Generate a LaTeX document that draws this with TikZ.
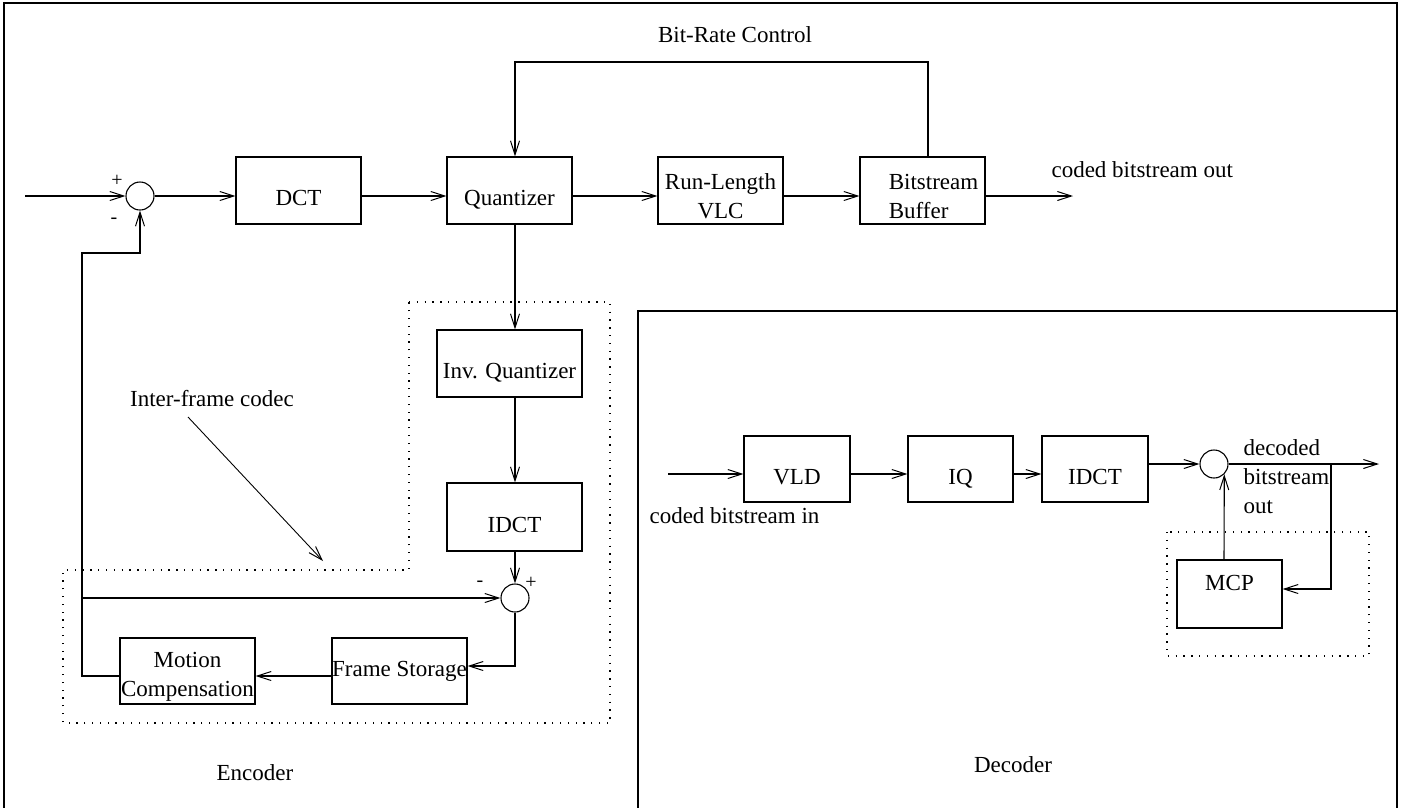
\documentclass[tikz,border=0pt]{standalone}
\usepackage{fontspec}
\setmainfont{Liberation Serif}
\usetikzlibrary{arrows.meta}
\begin{document}
\begin{tikzpicture}[x=1pt,y=-1pt,
  every node/.style={font=\fontsize{23}{29}\selectfont},
  line width=1.1pt,
  arr/.style={-{Straight Barb[length=14pt,width=9pt,line width=1pt]}},
  box/.style={draw,rectangle,inner sep=0pt,align=center},
  low/.style={text height=30pt,text depth=0pt},
  high/.style={text height=16pt,text depth=23pt},
  sum/.style={draw,circle,minimum size=28pt,inner sep=0pt},
  dotline/.style={line width=1.3pt,dash pattern=on 1.3pt off 6.5pt},
  lbl/.style={inner sep=0pt},
  sgn/.style={inner sep=0pt,font=\fontsize{20}{24}\selectfont}]
\useasboundingbox (0,0) rectangle (1404,807);
% frames
\draw (4,812) -- (4,3) -- (1397,3) -- (1397,812);
\draw (638,812) -- (638,311) -- (1397,311);
% dotted regions
\draw[dotline] (409,302) -- (610,302) -- (610,723) -- (63,723) -- (63,570) -- (409,570) -- cycle;
\draw[dotline] (1167,532) rectangle (1369,656);
% encoder nodes
\node[sum] (c1) at (140,196) {};
\node[box,low,minimum width=125pt,minimum height=67pt] (dct) at (298.5,190.5) {DCT};
\node[box,low,minimum width=125pt,minimum height=67pt] (qz) at (509.5,190.5) {Quantizer};
\node[box,minimum width=125pt,minimum height=67pt] (rl) at (720.5,190.5) {\rule{0pt}{27pt}Run-Length\\VLC};
\node[box,minimum width=125pt,minimum height=67pt,align=left] (bb) at (922.5,190.5) {\rule{0pt}{27pt}\hspace*{22pt}Bitstream\\\hspace*{22pt}Buffer};
\node[box,low,minimum width=145pt,minimum height=67pt] (iq) at (509.5,363.5) {Inv. Quantizer};
\node[box,low,minimum width=135pt,minimum height=68pt] (idct) at (514.5,517) {IDCT};
\node[sum] (c2) at (515,598) {};
\node[box,minimum width=135pt,minimum height=66pt] (mc) at (187.5,671) {\rule{0pt}{27pt}Motion\\Compensation};
\node[box,minimum width=135pt,minimum height=66pt] (fs) at (399.5,671) {Frame Storage};
% encoder coordinates
\coordinate (in) at (25,196);
\coordinate (out) at (1073,196);
\coordinate (br1) at (928,62);
\coordinate (br2) at (515,62);
\coordinate (fb) at (82,253);
\coordinate (ar1) at (188,417);
\coordinate (ar2) at (323,561);
% encoder connectors
\draw[arr] (in) -- (c1.west);
\draw[arr] (c1.east) -- (c1 -| dct.west);
\draw[arr] (c1 -| dct.east) -- (c1 -| qz.west);
\draw[arr] (c1 -| qz.east) -- (c1 -| rl.west);
\draw[arr] (c1 -| rl.east) -- (c1 -| bb.west);
\draw[arr] (c1 -| bb.east) -- (out);
\draw[arr] (br1 |- bb.north) -- (br1) -- (br2) -- (br2 |- qz.north);
\draw[arr] (br2 |- qz.south) -- (br2 |- iq.north);
\draw[arr] (br2 |- iq.south) -- (br2 |- idct.north);
\draw[arr] (br2 |- idct.south) -- (c2.north);
\draw[arr] (c2.south) |- ([yshift=5pt]fs.east);
\draw[arr] ([yshift=-5pt]fs.west) -- ([yshift=-5pt]mc.east);
\draw[arr] ([yshift=-5pt]mc.west) -| (fb) -| (c1.south);
\draw[arr] (fb |- c2) -- (c2.west);
\draw[arr,line width=0.9pt] (ar1) -- (ar2);
% encoder labels
\node[sgn] (p1) at (117,181) {+};
\node[sgn] (m1) at (114,221) {-};
\node[sgn] (m2) at (480,584) {-};
\node[sgn] (p2) at (531,583) {+};
\node[lbl] (brc) at (735,35) {Bit-Rate Control};
\node[lbl,anchor=west] (cbo) at (1051,170) {coded bitstream out};
\node[lbl] (ifc) at (212,399) {Inter-frame codec};
\node[lbl] (enc) at (255,773) {Encoder};
% decoder nodes
\node[box,low,minimum width=106pt,minimum height=66pt] (vld) at (797,469) {VLD};
\node[box,low,minimum width=105pt,minimum height=66pt] (iqd) at (960.5,469) {IQ};
\node[box,low,minimum width=106pt,minimum height=66pt] (idctd) at (1095,469) {IDCT};
\node[sum] (c3) at (1214,464) {};
\node[box,high,minimum width=105pt,minimum height=68pt] (mcp) at (1229.5,594) {MCP};
\coordinate (din) at (668,474);
\coordinate (dout) at (1379,464);
\coordinate (br3) at (1331,464);
% decoder connectors
\draw[arr] (din) -- (din -| vld.west);
\draw[arr] (din -| vld.east) -- (din -| iqd.west);
\draw[arr] (din -| iqd.east) -- (din -| idctd.west);
\draw[arr] (c3 -| idctd.east) -- (c3.west);
\draw[arr] (c3.east) -- (dout);
\draw[arr] (br3) |- ([yshift=5pt]mcp.east);
\draw[arr] ([xshift=-5.5pt]mcp.north) -- (c3.-45);
% decoder labels
\node[lbl,anchor=west] (cbi) at (649,516) {coded bitstream in};
\node[lbl,anchor=west,align=left] (dbo) at (1243,477) {decoded\\bitstream\\out};
\node[lbl] (dec) at (1013,765) {Decoder};
\end{tikzpicture}
\end{document}
